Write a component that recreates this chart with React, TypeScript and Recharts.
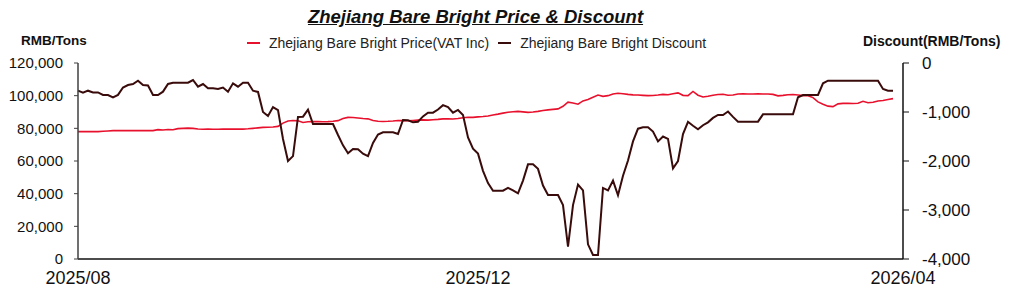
import { LineChart, Line, XAxis, YAxis, Legend } from "recharts";

// sampled trading-day points, Aug 2025 -> late Mar 2026
const PRICE = [
  78000, 78000, 78000, 78000, 78000, 78200, 78400, 78600, 78600, 78600,
  78600, 78600, 78600, 78600, 78600, 78600, 79200, 79000, 79300, 79100,
  79800, 80000, 80100, 80000, 79600, 79400, 79500, 79400, 79400, 79500,
  79600, 79500, 79600, 79500, 79700, 80000, 80300, 80600, 80700, 80800,
  81200, 83200, 84500, 84800, 84600, 83600, 84000, 84100, 84200, 84000,
  84100, 84300, 84700, 86000, 86700, 86600, 86300, 86000, 85800, 84800,
  84300, 84200, 84300, 84500, 84800, 84700, 84600, 84800, 85000, 85200,
  85000, 85300, 85500, 85800, 85800, 85700, 86000, 86500, 86800, 86700,
  87000, 87200, 87600, 88200, 88700, 89300, 89800, 90200, 90400, 90100,
  89800, 90000, 90400, 90900, 91300, 91600, 91900, 93500, 96000, 95500,
  94800, 96800, 97600, 99000, 100400, 99600, 100000, 101000, 101500, 101200,
  100800, 100500, 100400, 100200, 100000, 100100, 100400, 100800, 100600, 101200,
  101700, 100200, 100000, 102600, 100300, 99200, 99600, 100300, 100700, 100900,
  100300, 100400, 101000, 101100, 101000, 101000, 101100, 101000, 101000, 100800,
  99900, 100200, 100600, 100700, 100400, 100000, 100000, 98800, 96200, 94800,
  93600, 93300, 95000, 95300, 95300, 95200, 95400, 96600, 95700, 96000,
  96700, 97000, 97600, 98200,
];

const DISCOUNT = [
  -565, -606, -565, -600, -600, -653, -653, -700, -650, -500,
  -449, -430, -360, -449, -460, -653, -653, -585, -428, -402,
  -402, -402, -402, -347, -483, -430, -517, -517, -531, -500,
  -585, -415, -483, -402, -402, -565, -590, -1000, -1080, -900,
  -960, -1550, -2000, -1900, -1100, -1095, -950, -1245, -1245, -1245,
  -1245, -1245, -1470, -1680, -1843, -1755, -1760, -1850, -1900, -1630,
  -1460, -1415, -1415, -1415, -1450, -1163, -1170, -1211, -1200, -1090,
  -1014, -1014, -950, -860, -900, -1014, -959, -1061, -1520, -1750,
  -1850, -2200, -2450, -2606, -2606, -2606, -2550, -2600, -2660, -2400,
  -2068, -2068, -2160, -2500, -2694, -2694, -2694, -2900, -3750, -2900,
  -2480, -2600, -3700, -3918, -3918, -2550, -2600, -2400, -2700, -2300,
  -1990, -1600, -1340, -1313, -1313, -1400, -1600, -1500, -1550, -2150,
  -2000, -1450, -1200, -1280, -1353, -1270, -1211, -1120, -1061, -1061,
  -990, -1100, -1197, -1197, -1197, -1197, -1197, -1048, -1048, -1048,
  -1048, -1048, -1048, -1048, -700, -653, -653, -653, -653, -415,
  -361, -361, -361, -361, -361, -361, -361, -361, -361, -361,
  -361, -530, -565, -565,
];

const X_TICKS = [0, 80, 165];
const X_LABELS = ["2025/08", "2025/12", "2026/04"];
const LEFT_TICKS = [0, 20000, 40000, 60000, 80000, 100000, 120000];
const RIGHT_TICKS = [-4000, -3000, -2000, -1000, 0];

const PRICE_COLOR = "#e8112d";
const DISCOUNT_COLOR = "#3a0b0b";
const FONT = "'Liberation Sans', Arial, sans-serif";

const data = PRICE.map((p, i) => ({ i, price: p, discount: DISCOUNT[i] }));

const fmt = (v: number) => v.toLocaleString("en-US");

function LegendBox() {
  const items = [
    { label: "Zhejiang Bare Bright Price(VAT Inc)", color: PRICE_COLOR },
    { label: "Zhejiang Bare Bright Discount", color: DISCOUNT_COLOR },
  ];
  return (
    <div style={{ display: "flex", paddingLeft: 247, fontFamily: FONT, fontSize: 14, color: "#222", lineHeight: "16px" }}>
      {items.map((it) => (
        <div key={it.label} style={{ display: "flex", alignItems: "center", marginRight: 9 }}>
          <span style={{ display: "inline-block", width: 13, height: 2, background: it.color, marginRight: 9 }} />
          <span>{it.label}</span>
        </div>
      ))}
    </div>
  );
}

export default function App() {
  return (
    <div style={{ position: "absolute", left: 0, top: 0, width: 1024, height: 303, background: "#fff", fontFamily: FONT }}>
      <div
        style={{
          position: "absolute",
          left: 0,
          width: 951,
          top: 8,
          textAlign: "center",
          fontSize: 18.5,
          lineHeight: 1,
          fontWeight: 700,
          fontStyle: "italic",
          textDecoration: "underline",
          color: "#111",
        }}
      >
        Zhejiang Bare Bright Price &amp; Discount
      </div>
      <div style={{ position: "absolute", left: 21, top: 33, fontSize: 13.5, fontWeight: 700, color: "#111" }}>
        RMB/Tons
      </div>
      <div style={{ position: "absolute", left: 863, top: 33, fontSize: 14, fontWeight: 700, color: "#111" }}>
        Discount(RMB/Tons)
      </div>
      <LineChart width={1024} height={303} data={data} margin={{ top: 63, right: 21, bottom: 14, left: 0 }}>
        <XAxis
          dataKey="i"
          type="number"
          domain={[0, 165]}
          ticks={X_TICKS}
          interval={0}
          tickFormatter={(v: number) => X_LABELS[X_TICKS.indexOf(v)] ?? ""}
          tickLine={false}
          tickSize={0}
          tickMargin={12}
          height={30}
          axisLine={{ stroke: "#111", strokeWidth: 1.5 }}
          tick={{ fill: "#111", fontSize: 18 }}
        />
        <YAxis
          yAxisId="left"
          orientation="left"
          width={78}
          domain={[0, 120000]}
          ticks={LEFT_TICKS}
          interval={0}
          tickFormatter={fmt}
          tickSize={4}
          tickMargin={11}
          axisLine={{ stroke: "#404040", strokeWidth: 1.5 }}
          tickLine={{ stroke: "#404040" }}
          tick={{ fill: "#111", fontSize: 15 }}
        />
        <YAxis
          yAxisId="right"
          orientation="right"
          width={100}
          domain={[-4000, 0]}
          ticks={RIGHT_TICKS}
          interval={0}
          tickFormatter={fmt}
          tickSize={6}
          tickMargin={13}
          axisLine={{ stroke: "#111", strokeWidth: 1.5 }}
          tickLine={{ stroke: "#111" }}
          tick={{ fill: "#111", fontSize: 17 }}
        />
        <Legend
          verticalAlign="middle"
          align="center"
          layout="horizontal"
          wrapperStyle={{ top: 35, left: 0, width: 1024 }}
          content={() => <LegendBox />}
        />
        <Line
          yAxisId="left"
          dataKey="price"
          stroke={PRICE_COLOR}
          strokeWidth={1.6}
          dot={false}
          isAnimationActive={false}
        />
        <Line
          yAxisId="right"
          dataKey="discount"
          stroke={DISCOUNT_COLOR}
          strokeWidth={2}
          dot={false}
          isAnimationActive={false}
        />
      </LineChart>
    </div>
  );
}
